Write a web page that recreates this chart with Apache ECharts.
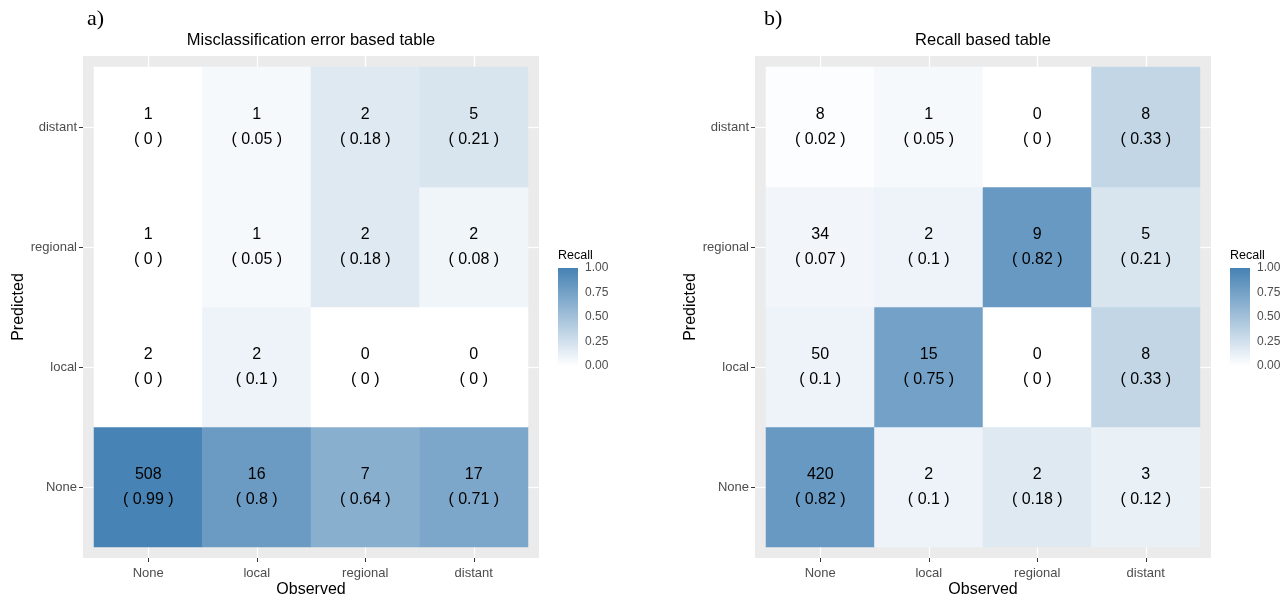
<!DOCTYPE html>
<html>
<head>
<meta charset="utf-8">
<script src="https://cdn.jsdelivr.net/npm/echarts@6/dist/echarts.min.js"></script>
<style>
  html, body { margin: 0; padding: 0; background: #fff; }
  #main { width: 1287px; height: 598px; }
</style>
</head>
<body>
<div id="main"></div>
<script>
// categories (x = Observed, y = Predicted, bottom to top)
var cats = ['None', 'local', 'regional', 'distant'];

// panel a) misclassification error based table, rows = predicted None, local, regional, distant
var countsA = [
    [508, 16, 7, 17],
    [2, 2, 0, 0],
    [1, 1, 2, 2],
    [1, 1, 2, 5]
];
var recallA = [
    [0.99, 0.8, 0.64, 0.71],
    [0, 0.1, 0, 0],
    [0, 0.05, 0.18, 0.08],
    [0, 0.05, 0.18, 0.21]
];

// panel b) recall based table
var countsB = [
    [420, 2, 2, 3],
    [50, 15, 0, 8],
    [34, 2, 9, 5],
    [8, 1, 0, 8]
];
var recallB = [
    [0.82, 0.1, 0.18, 0.12],
    [0.1, 0.75, 0, 0.33],
    [0.07, 0.1, 0.82, 0.21],
    [0.02, 0.05, 0, 0.33]
];

var legendMin = 0, legendMax = 1, legendStep = 0.25;
var lowColor = '#ffffff', highColor = '#4682b4';

var chart = echarts.init(document.getElementById('main'));

var grids = [], xAxes = [], yAxes = [], series = [], visualMaps = [], graphics = [];
var FONT = 'Arial, "Liberation Sans", sans-serif';

function toData(counts, recall) {
    var out = [];
    for (var r = 0; r < counts.length; r++) {
        for (var c = 0; c < counts[r].length; c++) {
            out.push([c, r, recall[r][c], counts[r][c]]);
        }
    }
    return out;
}

function addGrid(g) {
    g.outerBoundsMode = 'none';
    g.containLabel = false;
    grids.push(g);
    return grids.length - 1;
}

function addPanel(p) {
    var pad = 11;
    // gray panel background
    var gBg = addGrid({left: p.left - pad, top: p.top - pad, width: p.width + 2 * pad, height: p.height + 2 * pad,
        show: true, backgroundColor: '#ebebeb', borderWidth: 0, z: 0});
    xAxes.push({gridIndex: gBg, type: 'value', show: false});
    yAxes.push({gridIndex: gBg, type: 'value', show: false});

    // white grid stubs on bottom / left
    var gStub = addGrid({left: p.left, top: p.top, width: p.width, height: p.height});
    var stub = {show: true, inside: true, length: pad, alignWithLabel: true, lineStyle: {color: '#ffffff', width: 1.2}};
    xAxes.push({gridIndex: gStub, type: 'category', data: cats, position: 'bottom', offset: pad,
        axisLine: {show: false}, axisLabel: {show: false}, axisTick: stub, splitLine: {show: false}});
    yAxes.push({gridIndex: gStub, type: 'category', data: cats, position: 'left', offset: pad,
        axisLine: {show: false}, axisLabel: {show: false}, axisTick: stub, splitLine: {show: false}});

    // tiles
    var gT = addGrid({left: p.left, top: p.top, width: p.width, height: p.height});
    xAxes.push({gridIndex: gT, type: 'category', data: cats, position: 'bottom', offset: pad,
        name: 'Observed', nameLocation: 'middle', nameGap: 24, nameMoveOverlap: false,
        nameTextStyle: {fontFamily: FONT, fontSize: 16, color: '#000'},
        axisLine: {show: false},
        axisTick: {show: true, length: 4, alignWithLabel: true, lineStyle: {color: '#333'}},
        axisLabel: {margin: 9, fontFamily: FONT, fontSize: 13, color: '#4d4d4d'},
        splitLine: {show: false}});
    var xi = xAxes.length - 1;
    xAxes.push({gridIndex: gT, type: 'category', data: cats, position: 'top', offset: pad,
        axisLine: {show: false}, axisLabel: {show: false}, axisTick: stub, splitLine: {show: false}});
    yAxes.push({gridIndex: gT, type: 'category', data: cats, position: 'left', offset: pad,
        name: 'Predicted', nameLocation: 'middle', nameGap: 56, nameMoveOverlap: false,
        nameTextStyle: {fontFamily: FONT, fontSize: 16, color: '#000'},
        axisLine: {show: false},
        axisTick: {show: true, length: 4, alignWithLabel: true, lineStyle: {color: '#333'}},
        axisLabel: {margin: 6, fontFamily: FONT, fontSize: 13, color: '#4d4d4d'},
        splitLine: {show: false}});
    var yi = yAxes.length - 1;
    yAxes.push({gridIndex: gT, type: 'category', data: cats, position: 'right', offset: pad,
        axisLine: {show: false}, axisLabel: {show: false}, axisTick: stub, splitLine: {show: false}});

    series.push({
        type: 'heatmap', xAxisIndex: xi, yAxisIndex: yi, z: 3,
        data: toData(p.counts, p.recall),
        label: {
            show: true, fontFamily: FONT, fontSize: 16, color: '#000', lineHeight: 25,
            formatter: function (d) { return d.data[3] + '\n( ' + d.data[2] + ' )'; }
        },
        emphasis: {disabled: true}
    });
    visualMaps.push({type: 'continuous', show: false, min: legendMin, max: legendMax, dimension: 2,
        seriesIndex: series.length - 1, inRange: {color: [lowColor, highColor]}});

    // colour bar legend
    var gL = addGrid({left: p.legendLeft, top: 268, width: 20, height: 98});
    xAxes.push({gridIndex: gL, type: 'category', data: ['Recall'], show: false});
    var lx = xAxes.length - 1;
    var legTick = {show: true, inside: true, length: 4, lineStyle: {color: '#ffffff', width: 1.2}};
    yAxes.push({gridIndex: gL, type: 'value', min: legendMin, max: legendMax, interval: legendStep, position: 'right',
        axisLine: {show: false}, splitLine: {show: false}, axisTick: legTick,
        axisLabel: {margin: 7, fontFamily: FONT, fontSize: 12, color: '#4d4d4d',
            formatter: function (v) { return v.toFixed(2); }}});
    var ly = yAxes.length - 1;
    yAxes.push({gridIndex: gL, type: 'value', min: legendMin, max: legendMax, interval: legendStep, position: 'left',
        axisLine: {show: false}, splitLine: {show: false}, axisTick: legTick, axisLabel: {show: false}});
    series.push({
        type: 'bar', xAxisIndex: lx, yAxisIndex: ly, barWidth: '100%', z: 1, silent: true,
        data: [legendMax],
        itemStyle: {color: new echarts.graphic.LinearGradient(0, 0, 0, 1, [
            {offset: 0, color: highColor}, {offset: 1, color: lowColor}])}
    });

    graphics.push({type: 'text', x: p.legendLeft, y: 256,
        style: {text: 'Recall', font: '12.5px ' + FONT, fill: '#000', align: 'left', verticalAlign: 'middle'}});
    graphics.push({type: 'text', x: p.left + p.width / 2, y: 40,
        style: {text: p.title, font: '16.5px ' + FONT, fill: '#000', align: 'center', verticalAlign: 'middle'}});
    graphics.push({type: 'text', x: p.tag.x, y: 19,
        style: {text: p.tag.text, font: '22px "Liberation Serif", "Times New Roman", serif', fill: '#000',
            align: 'left', verticalAlign: 'middle'}});
}

addPanel({left: 94, top: 67, width: 434, height: 480, legendLeft: 558,
    counts: countsA, recall: recallA, title: 'Misclassification error based table', tag: {x: 87, text: 'a)'}});
addPanel({left: 766, top: 67, width: 434, height: 480, legendLeft: 1230,
    counts: countsB, recall: recallB, title: 'Recall based table', tag: {x: 764, text: 'b)'}});

chart.setOption({
    animation: false,
    backgroundColor: '#ffffff',
    grid: grids,
    xAxis: xAxes,
    yAxis: yAxes,
    visualMap: visualMaps,
    series: series,
    graphic: graphics
});
</script>
</body>
</html>
